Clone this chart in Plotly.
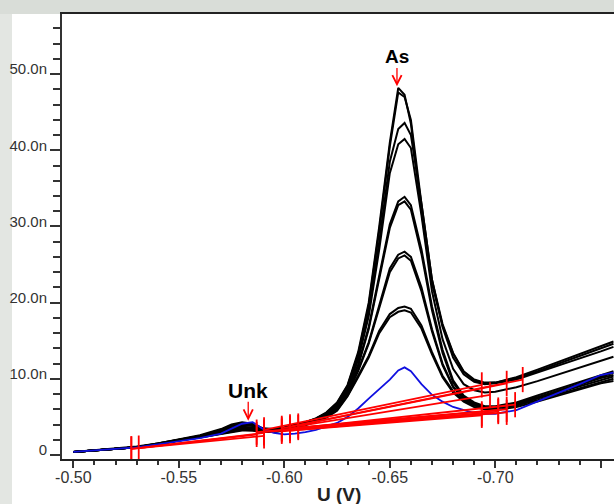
import plotly.graph_objects as go

# Potential grid (V)
U = [-0.500, -0.510, -0.520, -0.530, -0.540, -0.550, -0.560, -0.570, -0.575, -0.580,
     -0.585, -0.590, -0.595, -0.600, -0.605, -0.610, -0.615, -0.620, -0.625, -0.630,
     -0.635, -0.640, -0.645, -0.650, -0.654, -0.657, -0.660, -0.665, -0.670, -0.675,
     -0.680, -0.685, -0.690, -0.695, -0.700, -0.710, -0.720, -0.730, -0.740, -0.750, -0.756]

# Currents (nA) of the black voltammograms
i1 = [0.4, 0.6, 0.8, 1.1, 1.5, 2.0, 2.6, 3.4, 4.0, 4.3, 4.1, 3.5, 3.4, 3.6, 3.9, 4.3, 4.8,
      5.6, 6.9, 9.2, 13.5, 20.0, 30.0, 41.0, 48.2, 47.3,
      43.5, 32.0, 22.5, 17.0, 13.3, 10.9, 9.8, 9.4, 9.5, 10.2, 11.2, 12.2, 13.2, 14.3, 14.9]
i2 = [0.4, 0.6, 0.8, 1.0, 1.5, 2.0, 2.5, 3.3, 3.9, 4.2, 4.0, 3.4, 3.4, 3.6, 3.9, 4.3, 4.8,
      5.5, 6.8, 9.1, 13.2, 19.6, 29.5, 40.5, 47.6, 47.0,
      44.0, 33.0, 23.0, 17.2, 13.4, 11.0, 9.9, 9.5, 9.5, 10.1, 11.0, 12.0, 12.9, 14.0, 14.6]
i3 = [0.4, 0.6, 0.8, 1.0, 1.5, 2.0, 2.5, 3.2, 3.8, 4.1, 3.9, 3.4, 3.3, 3.5, 3.9, 4.3, 4.7,
      5.5, 6.7, 8.9, 12.8, 18.8, 28.0, 38.5, 42.8, 43.6,
      42.0, 33.0, 23.0, 16.8, 12.8, 10.6, 9.6, 9.3, 9.4, 9.9, 10.8, 11.7, 12.6, 13.6, 14.2]
i4 = [0.4, 0.6, 0.8, 1.0, 1.4, 1.9, 2.5, 3.1, 3.6, 3.9, 3.8, 3.3, 3.3, 3.5, 3.8, 4.2, 4.7,
      5.5, 6.6, 8.8, 12.5, 18.2, 27.0, 37.0, 40.8, 41.5,
      40.3, 31.5, 21.5, 15.2, 11.3, 9.3, 8.5, 8.2, 8.3, 8.9, 9.7, 10.6, 11.5, 12.4, 12.9]
i5 = [0.4, 0.6, 0.8, 1.0, 1.4, 1.9, 2.4, 3.0, 3.5, 3.7, 3.6, 3.2, 3.2, 3.4, 3.8, 4.2, 4.6,
      5.4, 6.5, 8.5, 11.9, 16.8, 23.5, 30.3, 33.3, 33.9,
      32.8, 27.0, 19.5, 13.8, 9.8, 7.8, 6.9, 6.4, 6.4, 6.9, 7.8, 8.7, 9.6, 10.5, 11.0]
i6 = [0.4, 0.6, 0.8, 1.0, 1.4, 1.9, 2.4, 3.0, 3.4, 3.6, 3.5, 3.2, 3.2, 3.4, 3.7, 4.1, 4.6,
      5.3, 6.4, 8.4, 11.7, 16.5, 23.0, 29.8, 32.8, 33.3,
      32.2, 26.4, 19.0, 13.4, 9.5, 7.6, 6.7, 6.3, 6.3, 6.8, 7.6, 8.5, 9.4, 10.3, 10.8]
i7 = [0.4, 0.6, 0.8, 1.0, 1.4, 1.9, 2.4, 2.9, 3.3, 3.4, 3.4, 3.1, 3.1, 3.3, 3.7, 4.1, 4.5,
      5.2, 6.2, 8.1, 11.2, 14.8, 19.8, 24.5, 26.3, 26.7,
      26.0, 22.0, 16.5, 12.0, 9.0, 7.5, 6.7, 6.2, 6.2, 6.7, 7.5, 8.3, 9.2, 10.1, 10.5]
i8 = [0.4, 0.6, 0.8, 1.0, 1.4, 1.9, 2.4, 2.9, 3.2, 3.4, 3.3, 3.1, 3.1, 3.3, 3.6, 4.0, 4.5,
      5.1, 6.1, 8.0, 11.0, 14.6, 19.4, 24.0, 25.8, 26.2,
      25.5, 21.5, 16.2, 11.8, 8.9, 7.4, 6.6, 6.1, 6.1, 6.6, 7.4, 8.2, 9.0, 9.9, 10.3]
i9 = [0.4, 0.6, 0.8, 1.0, 1.4, 1.9, 2.3, 2.8, 3.1, 3.3, 3.2, 3.0, 3.0, 3.2, 3.6, 4.0, 4.4,
      5.0, 5.9, 7.8, 10.4, 13.0, 16.3, 18.5, 19.3, 19.5,
      19.2, 17.0, 13.5, 10.4, 8.4, 7.2, 6.5, 6.2, 6.2, 6.5, 7.2, 8.0, 8.8, 9.6, 10.0]
i10 = [0.4, 0.6, 0.8, 1.0, 1.4, 1.9, 2.3, 2.8, 3.0, 3.2, 3.2, 3.0, 3.0, 3.2, 3.5, 3.9, 4.4,
       4.9, 5.8, 7.7, 10.2, 12.8, 16.0, 18.1, 18.8, 19.0,
       18.7, 16.6, 13.2, 10.2, 8.2, 7.0, 6.3, 6.0, 5.9, 6.3, 7.0, 7.8, 8.6, 9.4, 9.7]
# Blue voltammogram (sample)
i_blue = [0.4, 0.6, 0.8, 1.0, 1.4, 1.8, 2.2, 2.8, 3.5, 4.1, 4.3, 3.4, 2.9, 2.7, 2.8, 3.0, 3.3,
          3.7, 4.2, 5.0, 6.1, 7.4, 8.6, 9.9, 11.1, 11.5,
          11.0, 9.3, 7.9, 7.0, 6.3, 5.9, 5.5, 5.4, 5.4, 5.9, 7.0, 8.1, 9.3, 10.5, 10.8]

# Red peak baselines (Unk peak)
unk_left_u = [-0.5275, -0.5310, -0.5275]
unk_left_i = [0.8, 0.9, 0.8]
unk_right_u = [-0.5869, -0.5904, -0.5904]
unk_right_i = [2.7, 2.9, 2.5]
# Red peak baselines (As peak)
as_left_u = [-0.5988, -0.6027, -0.5904, -0.6066, -0.5988, -0.6027, -0.5869, -0.6066, -0.5988, -0.6027, -0.5904]
as_left_i = [3.5, 3.7, 3.3, 3.8, 3.3, 3.5, 3.0, 3.6, 3.1, 3.2, 3.0]
as_right_u = [-0.7130, -0.7054, -0.6936, -0.6975, -0.7094, -0.7054, -0.7014, -0.6936, -0.7014, -0.6936, -0.7054]
as_right_i = [9.9, 9.4, 9.2, 7.9, 6.6, 6.0, 5.9, 5.4, 5.7, 5.2, 5.6]

x_tickvals = [-0.50, -0.55, -0.60, -0.65, -0.70, -0.75]
x_ticktext = ["-0.50", "-0.55", "-0.60", "-0.65", "-0.70", "-0.75"]
y_tickvals = [0, 10, 20, 30, 40, 50]
y_ticktext = ["0", "10.0n", "20.0n", "30.0n", "40.0n", "50.0n"]

FONT = "Liberation Sans, Arial, sans-serif"

fig = go.Figure()
for ys in [i1, i2, i3, i4, i5, i6, i7, i8, i9, i10]:
    fig.add_trace(go.Scatter(x=U, y=ys, mode="lines",
                             line=dict(color="black", width=2), hoverinfo="skip"))
fig.add_trace(go.Scatter(x=U, y=i_blue, mode="lines",
                         line=dict(color="#1010e0", width=1.8), hoverinfo="skip"))

for lu, li, ru, ri in list(zip(unk_left_u, unk_left_i, unk_right_u, unk_right_i)) + \
        list(zip(as_left_u, as_left_i, as_right_u, as_right_i)):
    fig.add_trace(go.Scatter(x=[lu, ru], y=[li, ri], mode="lines+markers",
                             line=dict(color="#ff0000", width=1.8),
                             marker=dict(symbol="line-ns", size=18,
                                         line=dict(color="#ff0000", width=1.8)),
                             hoverinfo="skip"))

# Labels with arrows
fig.add_annotation(x=-0.6534, y=52.3, text="<b>As</b>", showarrow=False,
                   font=dict(family=FONT, size=19, color="black"), xref="x", yref="y")
fig.add_annotation(x=-0.6534, y=48.4, ax=-0.6534, ay=51.0, axref="x", ayref="y",
                   text="", showarrow=True, arrowhead=5, arrowsize=1.4, arrowwidth=1.3,
                   arrowcolor="#ff0000", standoff=0)
fig.add_annotation(x=-0.5829, y=8.5, text="<b>Unk</b>", showarrow=False,
                   font=dict(family=FONT, size=21, color="black"), xref="x", yref="y")
fig.add_annotation(x=-0.5829, y=4.5, ax=-0.5829, ay=7.2, axref="x", ayref="y",
                   text="", showarrow=True, arrowhead=5, arrowsize=1.4, arrowwidth=1.3,
                   arrowcolor="#ff0000", standoff=0)
# Axis title
fig.add_annotation(x=(339 - 62) / 552, y=(459 - 494) / 445, xref="paper", yref="paper",
                   text="<b>U (V)</b>", showarrow=False, yanchor="middle",
                   font=dict(family=FONT, size=19, color="#222"))

# Background decorations (grey strips around the window)
fig.add_shape(type="rect", xref="paper", yref="paper", x0=-62 / 552, x1=1.0,
              y0=1.0, y1=459 / 445, fillcolor="#d9ddd8", line=dict(width=0), layer="below")
fig.add_shape(type="rect", xref="paper", yref="paper", x0=-62 / 552, x1=-50 / 552,
              y0=-45 / 445, y1=1.0, fillcolor="#e3e6e2", line=dict(width=0), layer="below")

fig.update_layout(
    width=614, height=504,
    margin=dict(l=62, r=0, t=14, b=45),
    paper_bgcolor="white", plot_bgcolor="white",
    showlegend=False,
    font=dict(family=FONT, color="#333"),
    xaxis=dict(range=[-0.49464, -0.75626], tickmode="array", tickvals=x_tickvals,
               ticktext=x_ticktext, ticks="outside", ticklen=7, tickwidth=1.5,
               tickcolor="#333", showgrid=False, zeroline=False, showline=True,
               linecolor="#222", linewidth=2, mirror=True, ticklabelstandoff=-4,
               tickfont=dict(family=FONT, size=16, color="#333"),
               minor=dict(tickmode="linear", tick0=-0.5, dtick=0.01, ticks="outside",
                          ticklen=4, tickwidth=1.5, tickcolor="#333", showgrid=False)),
    yaxis=dict(range=[-0.53, 57.9], tickmode="array", tickvals=y_tickvals,
               ticktext=y_ticktext, ticks="outside", ticklen=10, tickwidth=1.5,
               tickcolor="#333", showgrid=False, zeroline=False, showline=True,
               linecolor="#333", linewidth=2, mirror=False, ticklabelshift=-5,
               tickfont=dict(family=FONT, size=15, color="#333"),
               minor=dict(tickmode="linear", tick0=0, dtick=2, ticks="outside",
                          ticklen=7, tickwidth=1.5, tickcolor="#333", showgrid=False)),
)

fig.write_html("out.html", config={"displayModeBar": False})
